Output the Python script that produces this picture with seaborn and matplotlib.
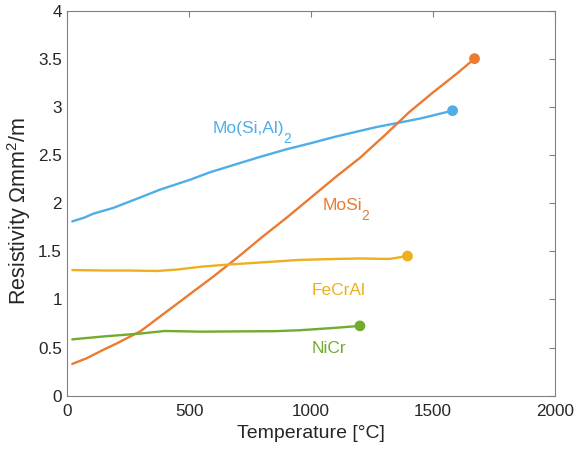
import matplotlib
matplotlib.use("Agg")
import matplotlib.pyplot as plt
import seaborn as sns
import pandas as pd

# ---- data ----
mosi2_T = [20, 80, 150, 200, 300, 400, 500, 600, 700, 800, 900, 1000, 1100, 1200, 1300, 1400, 1500, 1600, 1670]
mosi2_R = [0.33, 0.39, 0.48, 0.54, 0.67, 0.86, 1.05, 1.24, 1.44, 1.65, 1.85, 2.06, 2.27, 2.47, 2.70, 2.94, 3.15, 3.35, 3.50]

mosial_T = [20, 70, 106, 188, 300, 380, 500, 585, 700, 790, 900, 995, 1100, 1200, 1268, 1350, 1450, 1580]
mosial_R = [1.81, 1.85, 1.89, 1.95, 2.06, 2.14, 2.24, 2.32, 2.41, 2.48, 2.56, 2.62, 2.69, 2.75, 2.79, 2.83, 2.88, 2.96]

fecral_T = [20, 150, 250, 366, 450, 550, 650, 800, 950, 1100, 1200, 1320, 1395]
fecral_R = [1.305, 1.30, 1.30, 1.295, 1.31, 1.34, 1.36, 1.385, 1.41, 1.42, 1.425, 1.42, 1.45]

nicr_T = [20, 133, 297, 400, 550, 700, 850, 954, 1100, 1200]
nicr_R = [0.585, 0.612, 0.645, 0.672, 0.665, 0.668, 0.67, 0.68, 0.705, 0.725]

colors = {"Mo(Si,Al)2": "#4DAEE8", "MoSi2": "#EC7A30", "FeCrAl": "#EDB120", "NiCr": "#72AC2F"}

# (key, main text, subscript, x, y)
labels = [
    ("Mo(Si,Al)2", "Mo(Si,Al)", "2", 597, 2.73),
    ("MoSi2", "MoSi", "2", 1048, 1.93),
    ("FeCrAl", "FeCrAl", "", 1002, 1.045),
    ("NiCr", "NiCr", "", 1002, 0.44),
]

frames = []
for name, T, R in [("Mo(Si,Al)2", mosial_T, mosial_R), ("MoSi2", mosi2_T, mosi2_R),
                   ("FeCrAl", fecral_T, fecral_R), ("NiCr", nicr_T, nicr_R)]:
    frames.append(pd.DataFrame({"T": T, "R": R, "material": name}))
df = pd.concat(frames, ignore_index=True)
ends = df.groupby("material", sort=False).tail(1)

sns.set_style("white")
plt.rcParams["font.family"] = ["Liberation Sans", "DejaVu Sans"]
plt.rcParams["mathtext.fontset"] = "custom"
plt.rcParams["mathtext.rm"] = "Liberation Sans"
plt.rcParams["mathtext.it"] = "Liberation Sans:italic"
plt.rcParams["mathtext.bf"] = "Liberation Sans:bold"

fig = plt.figure(figsize=(5.76, 4.51), dpi=100)
ax = fig.add_axes([0.117, 0.1226, 0.8465, 0.8541])

sns.lineplot(data=df, x="T", y="R", hue="material", palette=colors, sort=False,
             linewidth=1.7, legend=False, ax=ax, estimator=None)
sns.scatterplot(data=ends, x="T", y="R", hue="material", palette=colors, s=60,
                edgecolor="none", legend=False, ax=ax, zorder=5)

ax.set_xlim(0, 2000)
ax.set_ylim(0, 4)

renderer = fig.canvas.get_renderer()
for key, txt, sub, x, y in labels:
    t = ax.text(x, y, txt, color=colors[key], fontsize=12.5, ha="left", va="baseline")
    if sub:
        w = t.get_window_extent(renderer).width * 72.0 / fig.dpi
        ax.annotate(sub, xy=(x, y), xycoords="data", xytext=(w - 1.0, -7.0),
                    textcoords="offset points", color=colors[key], fontsize=10,
                    ha="left", va="baseline")

ax.set_xticks([0, 500, 1000, 1500, 2000])
ax.set_yticks([0, 0.5, 1, 1.5, 2, 2.5, 3, 3.5, 4])
ax.set_yticklabels(["0", "0.5", "1", "1.5", "2", "2.5", "3", "3.5", "4"])
ax.set_xlabel("Temperature [°C]", fontsize=14, color="#262626", labelpad=4)
ax.set_ylabel("Resistivity Ωmm$^2$/m", fontsize=15.5, color="#262626")
ax.yaxis.set_label_coords(-0.071, 0.48)
ax.tick_params(direction="in", top=True, right=True, length=4, width=0.8,
               color="#808080", labelsize=12.3, labelcolor="#262626")
ax.tick_params(axis="x", pad=6)
ax.tick_params(axis="y", pad=4)
for sp in ax.spines.values():
    sp.set_visible(True)
    sp.set_color("#808080")
    sp.set_linewidth(0.8)

fig.savefig("out.png", dpi=100)
